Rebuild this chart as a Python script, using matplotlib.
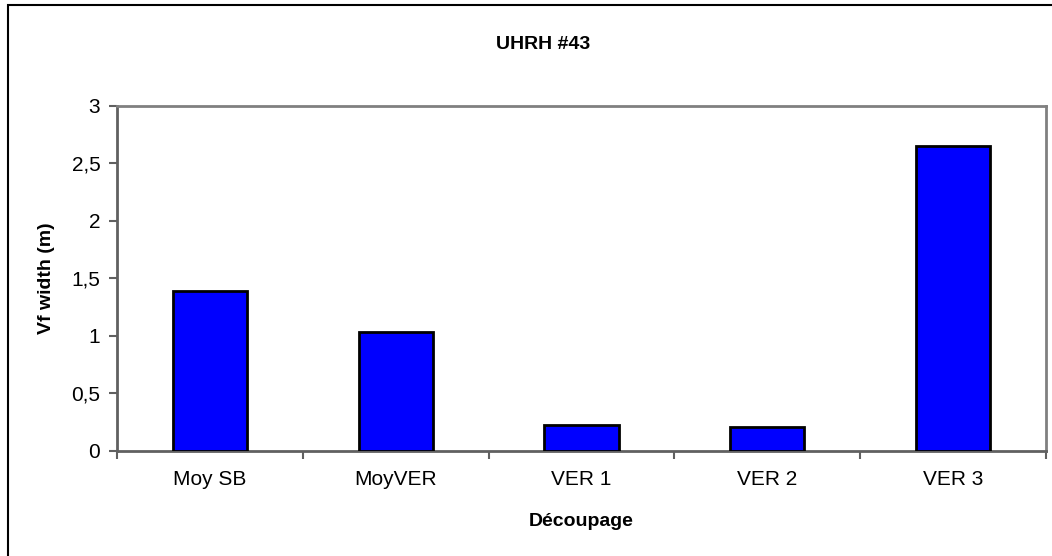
import numpy as np
import matplotlib.pyplot as plt
from matplotlib.patches import Rectangle
from matplotlib.ticker import FuncFormatter

# data
categories = ["Moy SB", "MoyVER", "VER 1", "VER 2", "VER 3"]
widths = [1.39, 1.03, 0.23, 0.21, 2.65]

plt.rcParams['font.family'] = ['Liberation Sans', 'DejaVu Sans']

fig = plt.figure(figsize=(10.52, 5.56), dpi=100)
W, H = 1052.0, 556.0
ax = fig.add_axes([117/W, 1 - 451/H, (1046-117)/W, (451-105.7)/H])

x = np.arange(len(categories))
ax.bar(x, widths, width=0.4, color='#0000FF', edgecolor='black', linewidth=2, zorder=3)

ax.set_xlim(-0.5, len(categories) - 0.5)
ax.set_ylim(0, 3)
ax.set_yticks(np.arange(0, 3.01, 0.5))
ax.yaxis.set_major_formatter(FuncFormatter(lambda v, p: ('%g' % v).replace('.', ',')))

# tick marks between categories, labels at centres
ax.set_xticks(np.arange(-0.5, len(categories), 1.0))
ax.set_xticklabels([])
ax.set_xticks(x, minor=True)
ax.set_xticklabels(categories, minor=True)
ax.tick_params(axis='x', which='minor', length=0, pad=14, labelsize=15)
ax.tick_params(axis='x', which='major', length=6, width=1.5, color='#606060', direction='out')
ax.tick_params(axis='y', length=6, width=1.5, color='#606060', labelsize=15, pad=6)

for s in ax.spines.values():
    s.set_color('#808080')
    s.set_linewidth(2)
ax.spines['left'].set_color('#606060')
ax.spines['bottom'].set_color('#606060')

ax.set_ylabel("Vf width (m)", fontsize=14, fontweight='bold', labelpad=12)
ax.set_xlabel("Découpage", fontsize=14, fontweight='bold', labelpad=17)
fig.text(543/W, 1 - 45/H, "UHRH #43", ha='center', va='center', fontsize=14, fontweight='bold')

# outer chart frame (right and bottom sides fall outside the picture)
fig.patches.append(Rectangle((8/W, -0.1), 1.2, 1.1 - 5/H, transform=fig.transFigure,
                             fill=False, edgecolor='black', linewidth=1.5))

fig.savefig("out.png", dpi=100)
